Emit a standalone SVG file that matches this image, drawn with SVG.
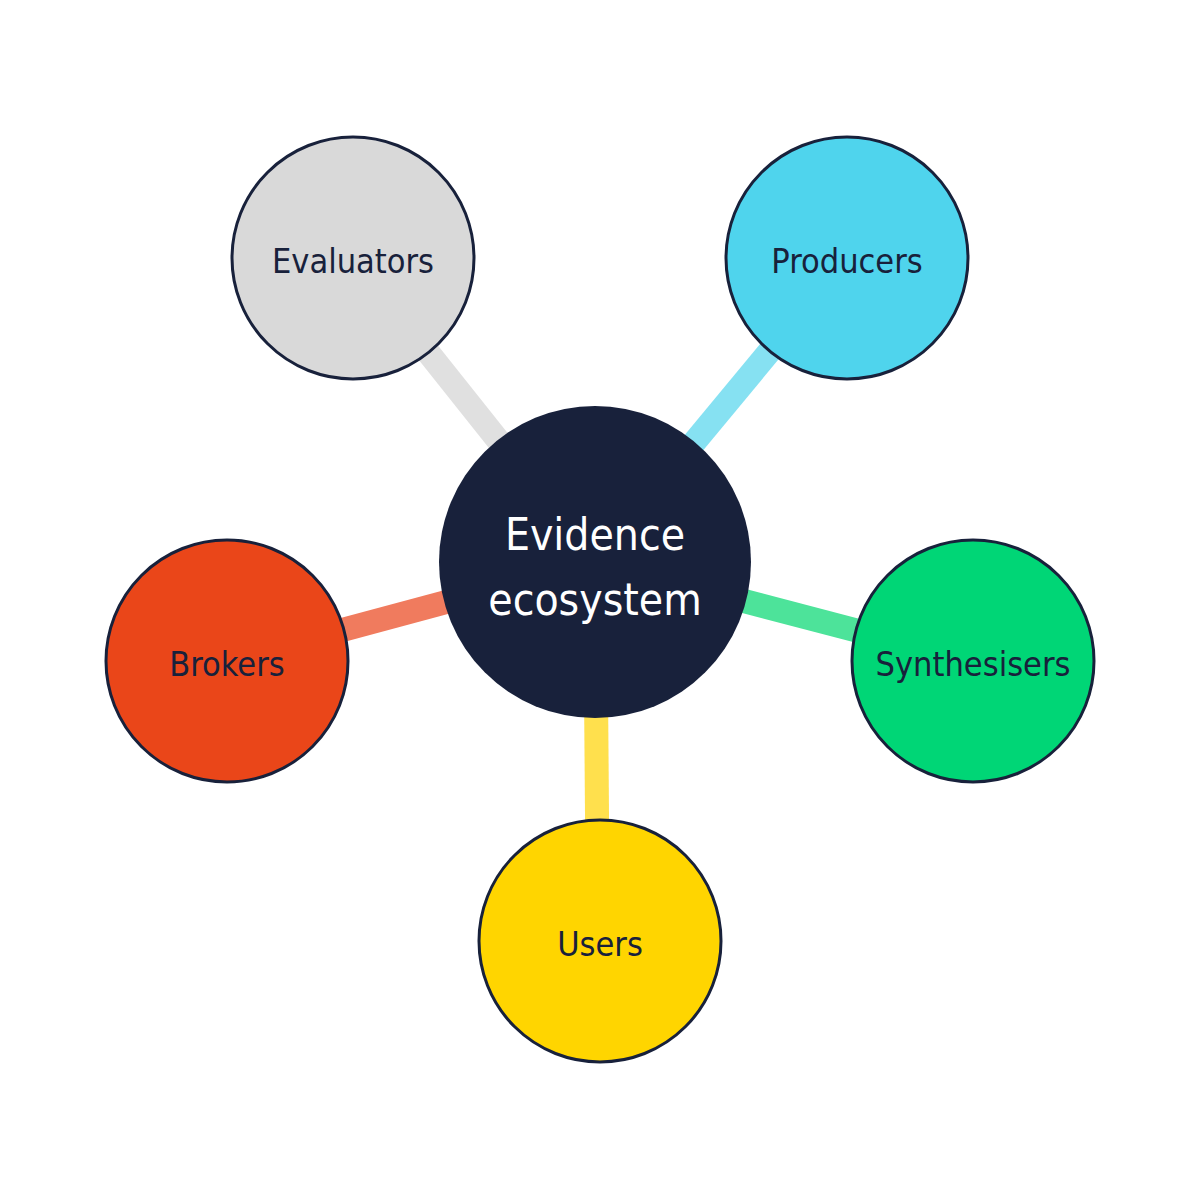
<svg xmlns="http://www.w3.org/2000/svg" width="1200" height="1200" viewBox="0 0 1200 1200">
<style>
.n{stroke:#18213b;stroke-width:3}
.t{font-family:"DejaVu Sans Condensed","Liberation Sans",sans-serif;font-stretch:condensed;font-size:34px;fill:#18213b;text-anchor:middle}
.c{stroke-width:24;fill:none}
</style>
<rect width="1200" height="1200" fill="#fff"/>
<g id="connectors">
<line class="c" x1="595" y1="562" x2="353" y2="258" stroke="#e0e0e0"/>
<line class="c" x1="595" y1="562" x2="847" y2="258" stroke="#86e1f2"/>
<line class="c" x1="595" y1="562" x2="227" y2="661" stroke="#f07b5e"/>
<line class="c" x1="595" y1="562" x2="973" y2="661" stroke="#4de39a"/>
<line class="c" x1="595" y1="562" x2="598" y2="941" stroke="#ffe04d"/>
</g>
<g id="center"><circle cx="595" cy="562" r="156" fill="#18213b"/>
<text x="595" y="550" class="t" style="fill:#fff;font-size:44px">Evidence</text>
<text x="595" y="615" class="t" style="fill:#fff;font-size:44px">ecosystem</text></g>
<g id="evaluators"><circle class="n" cx="353" cy="258" r="121" fill="#d9d9d9"/><text class="t" x="353" y="273">Evaluators</text></g>
<g id="producers"><circle class="n" cx="847" cy="258" r="121" fill="#4fd4ed"/><text class="t" x="847" y="273">Producers</text></g>
<g id="brokers"><circle class="n" cx="227" cy="661" r="121" fill="#ea4619"/><text class="t" x="227" y="676">Brokers</text></g>
<g id="synthesisers"><circle class="n" cx="973" cy="661" r="121" fill="#00d676"/><text class="t" x="973" y="676">Synthesisers</text></g>
<g id="users"><circle class="n" cx="600" cy="941" r="121" fill="#ffd500"/><text class="t" x="600" y="956">Users</text></g>
</svg>
